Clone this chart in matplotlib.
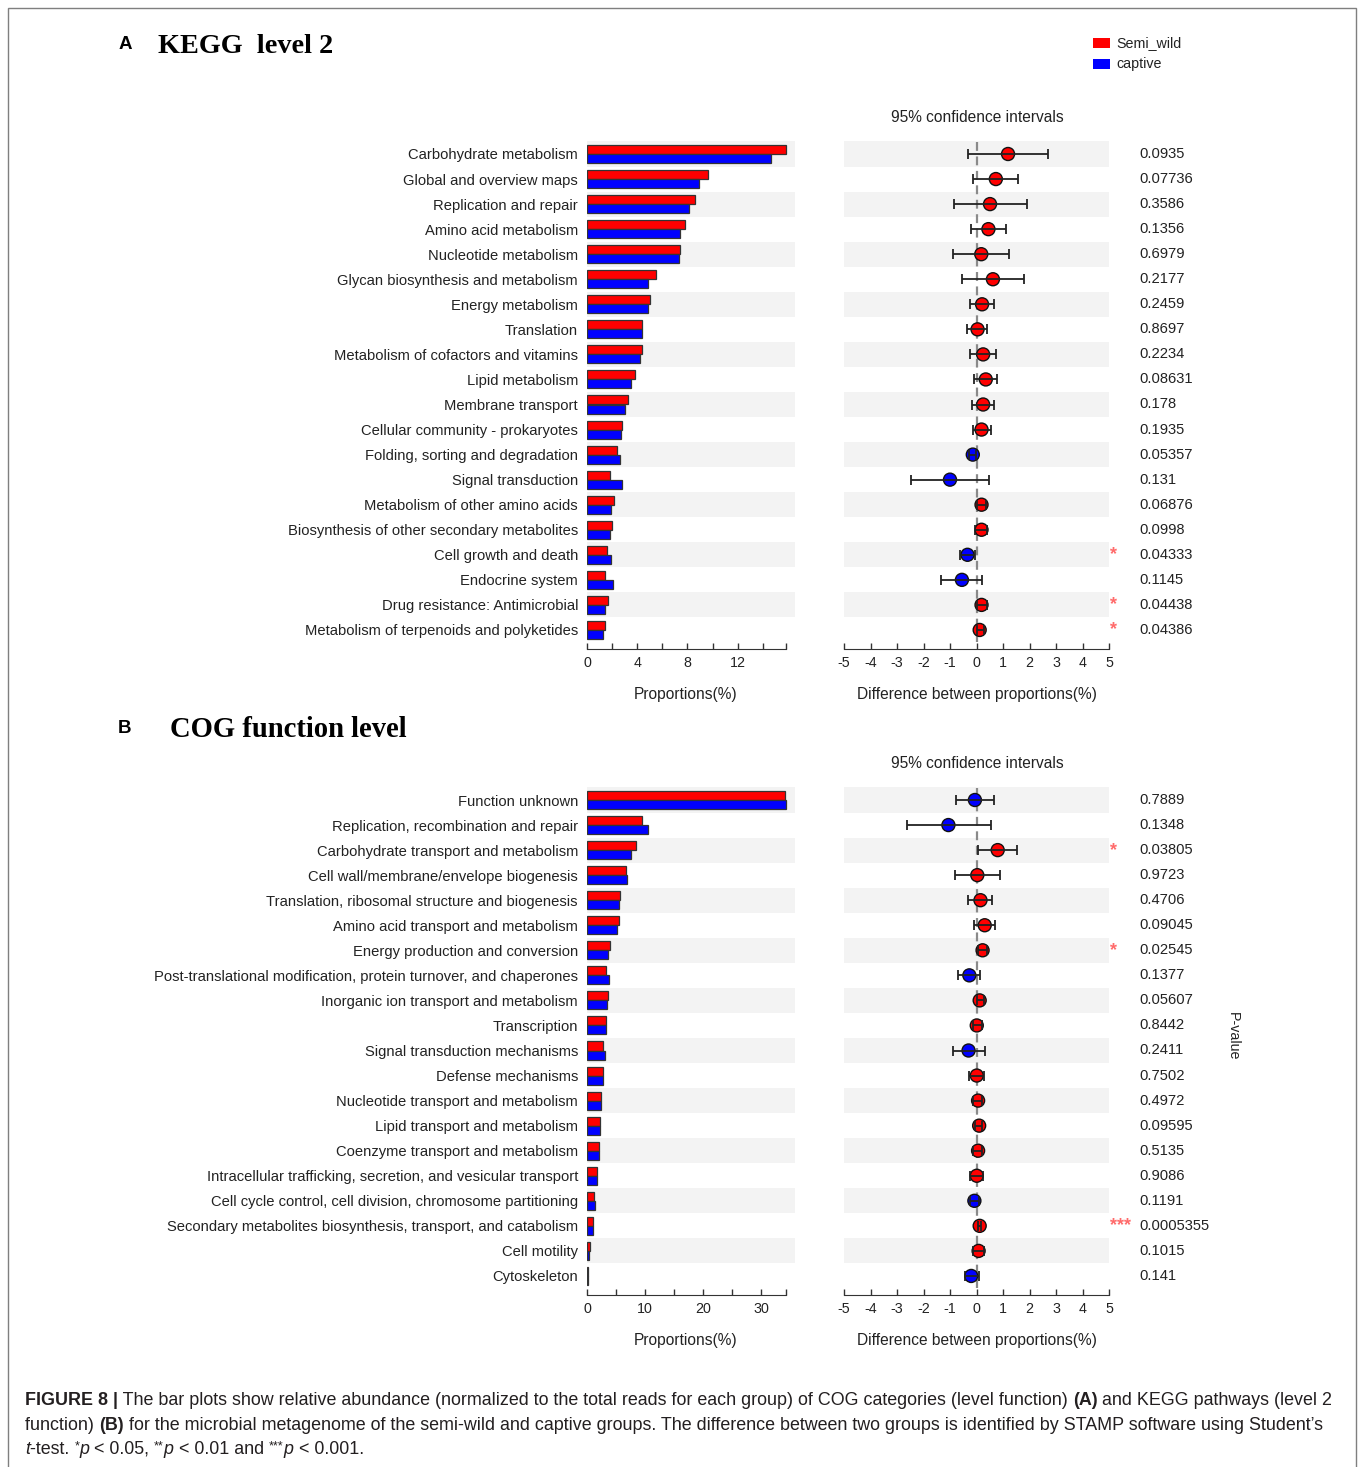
import matplotlib
matplotlib.use("Agg")
import matplotlib.pyplot as plt
import matplotlib.transforms as mtransforms
from matplotlib.patches import Rectangle
import numpy as np

plt.rcParams["font.family"] = ["Liberation Sans", "DejaVu Sans"]

W, H, DPI = 1358, 1467, 100

# ---------------- KEGG level 2 ----------------
kegg_categories = [
    "Carbohydrate metabolism", "Global and overview maps", "Replication and repair",
    "Amino acid metabolism", "Nucleotide metabolism", "Glycan biosynthesis and metabolism",
    "Energy metabolism", "Translation", "Metabolism of cofactors and vitamins",
    "Lipid metabolism", "Membrane transport", "Cellular community - prokaryotes",
    "Folding, sorting and degradation", "Signal transduction", "Metabolism of other amino acids",
    "Biosynthesis of other secondary metabolites", "Cell growth and death", "Endocrine system",
    "Drug resistance: Antimicrobial", "Metabolism of terpenoids and polyketides",
]
kegg_semi_wild = [15.86, 9.62, 8.58, 7.83, 7.43, 5.52, 5.04, 4.40, 4.40, 3.85,
                  3.26, 2.81, 2.41, 1.80, 2.12, 2.02, 1.59, 1.46, 1.64, 1.43]
kegg_captive = [14.66, 8.95, 8.10, 7.39, 7.30, 4.88, 4.86, 4.36, 4.20, 3.54,
                3.00, 2.68, 2.60, 2.81, 1.94, 1.86, 1.94, 2.04, 1.40, 1.27]
kegg_diff = [1.19, 0.73, 0.51, 0.45, 0.18, 0.62, 0.21, 0.04, 0.25, 0.35,
             0.25, 0.19, -0.14, -1.00, 0.19, 0.19, -0.34, -0.55, 0.19, 0.12]
kegg_ci_low = [-0.32, -0.13, -0.85, -0.21, -0.87, -0.55, -0.23, -0.34, -0.24, -0.08,
               -0.17, -0.15, -0.30, -2.49, 0.02, -0.06, -0.64, -1.34, 0.02, 0.00]
kegg_ci_high = [2.69, 1.55, 1.90, 1.10, 1.23, 1.80, 0.65, 0.38, 0.72, 0.79,
                0.66, 0.53, -0.02, 0.48, 0.36, 0.41, -0.04, 0.22, 0.38, 0.28]
kegg_pvalues = ["0.0935", "0.07736", "0.3586", "0.1356", "0.6979", "0.2177", "0.2459",
                "0.8697", "0.2234", "0.08631", "0.178", "0.1935", "0.05357", "0.131",
                "0.06876", "0.0998", "0.04333", "0.1145", "0.04438", "0.04386"]
kegg_ticks = [0, 2, 4, 6, 8, 10, 12, 14]
kegg_tick_labels = [0, 4, 8, 12]

# ---------------- COG function level ----------------
cog_categories = [
    "Function unknown", "Replication, recombination and repair",
    "Carbohydrate transport and metabolism", "Cell wall/membrane/envelope biogenesis",
    "Translation, ribosomal structure and biogenesis", "Amino acid transport and metabolism",
    "Energy production and conversion",
    "Post-translational modification, protein turnover, and chaperones",
    "Inorganic ion transport and metabolism", "Transcription", "Signal transduction mechanisms",
    "Defense mechanisms", "Nucleotide transport and metabolism", "Lipid transport and metabolism",
    "Coenzyme transport and metabolism",
    "Intracellular trafficking, secretion, and vesicular transport",
    "Cell cycle control, cell division, chromosome partitioning",
    "Secondary metabolites biosynthesis, transport, and catabolism",
    "Cell motility", "Cytoskeleton",
]
cog_semi_wild = [34.1, 9.53, 8.40, 6.78, 5.69, 5.57, 3.90, 3.33, 3.56, 3.33,
                 2.70, 2.76, 2.36, 2.24, 2.00, 1.72, 1.15, 1.09, 0.52, 0.12]
cog_captive = [34.3, 10.6, 7.64, 6.84, 5.57, 5.24, 3.62, 3.73, 3.45, 3.28,
               3.04, 2.76, 2.36, 2.24, 2.00, 1.75, 1.32, 1.04, 0.40, 0.20]
cog_diff = [-0.06, -1.06, 0.80, 0.03, 0.15, 0.31, 0.23, -0.27, 0.12, 0.01,
            -0.30, 0.01, 0.06, 0.10, 0.06, 0.01, -0.08, 0.12, 0.08, -0.20]
cog_ci_low = [-0.78, -2.64, 0.06, -0.82, -0.33, -0.08, 0.07, -0.68, 0.00, -0.15,
              -0.88, -0.28, -0.13, -0.04, -0.12, -0.23, -0.25, 0.07, -0.13, -0.42]
cog_ci_high = [0.65, 0.53, 1.51, 0.88, 0.60, 0.69, 0.41, 0.15, 0.28, 0.21,
               0.33, 0.30, 0.20, 0.20, 0.20, 0.23, 0.10, 0.18, 0.29, 0.10]
cog_pvalues = ["0.7889", "0.1348", "0.03805", "0.9723", "0.4706", "0.09045", "0.02545",
               "0.1377", "0.05607", "0.8442", "0.2411", "0.7502", "0.4972", "0.09595",
               "0.5135", "0.9086", "0.1191", "0.0005355", "0.1015", "0.141"]
cog_ticks = [0, 5, 10, 15, 20, 25, 30]
cog_tick_labels = [0, 10, 20, 30]

group_names = ["Semi_wild", "captive"]
RED, BLUE = "#ff0000", "#0000ff"
STRIPE = "#f3f3f3"
TXT = "#222222"
PX = 72.0 / DPI  # points per pixel

fig = plt.figure(figsize=(W / DPI, H / DPI), dpi=DPI)
fig.patch.set_facecolor("white")


def fx(x):
    return x / W


def fy(y):
    return 1 - y / H


def stars_for(p):
    p = float(p)
    if p < 0.001:
        return "***"
    if p < 0.01:
        return "**"
    if p < 0.05:
        return "*"
    return ""


def panel(first_row_y, cats, semi, capt, diff, lo, hi, pvals,
          ticks, tick_labels, bar_xmax, ci_title_y, axis_label_y):
    n = len(cats)
    pitch = 25.05
    y_top = first_row_y - pitch / 2
    y_bot = first_row_y + (n - 1) * pitch + pitch / 2
    rows = np.arange(n)

    # relative abundance bars
    axb = fig.add_axes([fx(587), fy(y_bot), 208 / W, (y_bot - y_top) / H])
    for i in range(0, n, 2):
        axb.axhspan(i - 0.5, i + 0.5, color=STRIPE, lw=0, zorder=0)
    axb.barh(rows - 0.18, semi, height=0.36, color=RED, edgecolor="#333333",
             linewidth=0.9, zorder=2)
    axb.barh(rows + 0.18, capt, height=0.36, color=BLUE, edgecolor="#333333",
             linewidth=0.9, zorder=2)
    axb.set_ylim(n - 0.5, -0.5)
    axb.set_xlim(0, bar_xmax)
    end = max(max(semi), max(capt))
    for s in ("left", "right", "top"):
        axb.spines[s].set_visible(False)
    axb.spines["bottom"].set_position(("outward", 7 * PX))
    axb.spines["bottom"].set_bounds(0, end)
    axb.spines["bottom"].set_color("#333333")
    xt = list(ticks) + [end]
    axb.set_xticks(xt)
    axb.set_xticklabels([str(t) if t in tick_labels else "" for t in ticks] + [""])
    axb.tick_params(axis="x", direction="in", length=6 * PX, width=1,
                    color="#333333", labelsize=10.3, labelcolor=TXT, pad=5)
    axb.set_yticks(rows)
    axb.set_yticklabels(cats, fontsize=10.6, color=TXT)
    axb.tick_params(axis="y", length=0, pad=9 * PX)
    axb.set_facecolor("none")
    fig.text(fx(686), fy(axis_label_y), "Proportions(%)", ha="center", va="center",
             fontsize=11.2, color=TXT)

    # confidence intervals of the difference
    axc = fig.add_axes([fx(844), fy(y_bot), 265 / W, (y_bot - y_top) / H])
    for i in range(0, n, 2):
        axc.axhspan(i - 0.5, i + 0.5, color=STRIPE, lw=0, zorder=0)
    axc.axvline(0, color="#8a8a8a", lw=1.6, ls=(0, (4, 2.5)), zorder=1)
    d = np.array(diff)
    colors = [RED if v > 0 else BLUE for v in d]
    axc.scatter(d, rows, s=(13 * PX) ** 2, c=colors, edgecolors="#111111",
                linewidths=1.0, zorder=3)
    axc.errorbar(d, rows, xerr=[d - np.array(lo), np.array(hi) - d], fmt="none",
                 ecolor="#222222", elinewidth=1.3, capsize=5 * PX, capthick=1.3, zorder=4)
    axc.set_xlim(-5, 5)
    axc.set_ylim(n - 0.5, -0.5)
    for s in ("left", "right", "top"):
        axc.spines[s].set_visible(False)
    axc.spines["bottom"].set_position(("outward", 7 * PX))
    axc.spines["bottom"].set_color("#333333")
    axc.set_xticks(range(-5, 6))
    axc.set_xticklabels([str(t) for t in range(-5, 6)])
    axc.tick_params(axis="x", direction="in", length=6 * PX, width=1, color="#333333",
                    labelsize=10.3, labelcolor=TXT, pad=5)
    axc.set_yticks([])
    axc.set_facecolor("none")
    tr = mtransforms.blended_transform_factory(axc.transAxes, axc.transData)
    for i, p in enumerate(pvals):
        axc.text(1.113, i, p, transform=tr, ha="left", va="center", fontsize=10.6,
                 color=TXT)
        st = stars_for(p)
        if st:
            axc.text(1.003, i, st, transform=tr, ha="left", va="center", fontsize=13,
                     color="#ff6b6b", fontweight="bold")
    fig.text(fx(977), fy(ci_title_y), "95% confidence intervals", ha="center",
             va="center", fontsize=11.2, color=TXT)
    fig.text(fx(977), fy(axis_label_y), "Difference between proportions(%)",
             ha="center", va="center", fontsize=11.2, color=TXT)


panel(154, kegg_categories, kegg_semi_wild, kegg_captive, kegg_diff, kegg_ci_low,
      kegg_ci_high, kegg_pvalues, kegg_ticks, kegg_tick_labels, 16.57, 117, 695)
panel(800, cog_categories, cog_semi_wild, cog_captive, cog_diff, cog_ci_low,
      cog_ci_high, cog_pvalues, cog_ticks, cog_tick_labels, 35.86, 764, 1341)

# panel headings
fig.text(fx(119), fy(49), "A", fontsize=13.5, fontweight="bold", color="black",
         ha="left", va="baseline")
fig.text(fx(158), fy(53), "KEGG  level 2", fontsize=20.3, fontweight="bold",
         family=["Liberation Serif", "DejaVu Serif"], color="black", ha="left",
         va="baseline")
fig.text(fx(118), fy(733), "B", fontsize=13.5, fontweight="bold", color="black",
         ha="left", va="baseline")
fig.text(fx(170), fy(737), "COG function level", fontsize=20.6, fontweight="bold",
         family=["Liberation Serif", "DejaVu Serif"], color="black", ha="left",
         va="baseline")

# legend
for k, (name, col) in enumerate(zip(group_names, [RED, BLUE])):
    yc = 43 + 21 * k
    fig.patches.append(Rectangle((fx(1093), fy(yc + 5)), 17 / W, 10 / H,
                                 transform=fig.transFigure, facecolor=col,
                                 edgecolor="none"))
    fig.text(fx(1116), fy(yc), name, ha="left", va="center", fontsize=10.3, color=TXT)

# P-value axis title
fig.text(fx(1233), fy(1036), "P-value", rotation=270, ha="center", va="center",
         fontsize=10.3, color=TXT)

# outer frame
fig.patches.append(Rectangle((fx(8), fy(1480)), 1348 / W, 1472 / H,
                             transform=fig.transFigure, facecolor="none",
                             edgecolor="#7f7f7f", linewidth=1.0))

# caption, assembled from styled runs
renderer = fig.canvas.get_renderer()
CAP_FONT = ["Liberation Sans Narrow", "Liberation Sans", "DejaVu Sans"]
CAP_SIZE = 12.9


def run_width(s, size, weight, style):
    t = fig.text(0, 0, s + "|", fontsize=size, fontweight=weight, fontstyle=style,
                 family=CAP_FONT)
    w1 = t.get_window_extent(renderer).width
    t.remove()
    t = fig.text(0, 0, "|", fontsize=size, fontweight=weight, fontstyle=style,
                 family=CAP_FONT)
    w2 = t.get_window_extent(renderer).width
    t.remove()
    return w1 - w2


def caption_line(x, y, runs):
    for s, kind in runs:
        size = CAP_SIZE
        weight, style, dy = "normal", "normal", 0
        if kind == "b":
            weight = "bold"
        elif kind == "i":
            style = "italic"
        elif kind == "sup":
            size = CAP_SIZE * 0.7
            dy = 5
        fig.text(fx(x), fy(y - dy), s, fontsize=size, fontweight=weight,
                 fontstyle=style, family=CAP_FONT, color="#231f20", ha="left",
                 va="baseline")
        x += run_width(s, size, weight, style)


caption_line(25, 1405, [
    ("FIGURE 8 |", "b"),
    (" The bar plots show relative abundance (normalized to the total reads for each "
     "group) of COG categories (level function) ", "n"),
    ("(A)", "b"),
    (" and KEGG pathways (level 2", "n"),
])
caption_line(25, 1430, [
    ("function) ", "n"),
    ("(B)", "b"),
    (" for the microbial metagenome of the semi-wild and captive groups. The difference "
     "between two groups is identified by STAMP software using Student\u2019s", "n"),
])
caption_line(25, 1454, [
    ("t", "i"), ("-test. ", "n"), ("*", "sup"), ("p", "i"), (" < 0.05, ", "n"),
    ("**", "sup"), ("p", "i"), (" < 0.01 and ", "n"), ("***", "sup"), ("p", "i"),
    (" < 0.001.", "n"),
])

fig.savefig("out.png", dpi=DPI, facecolor="white")
